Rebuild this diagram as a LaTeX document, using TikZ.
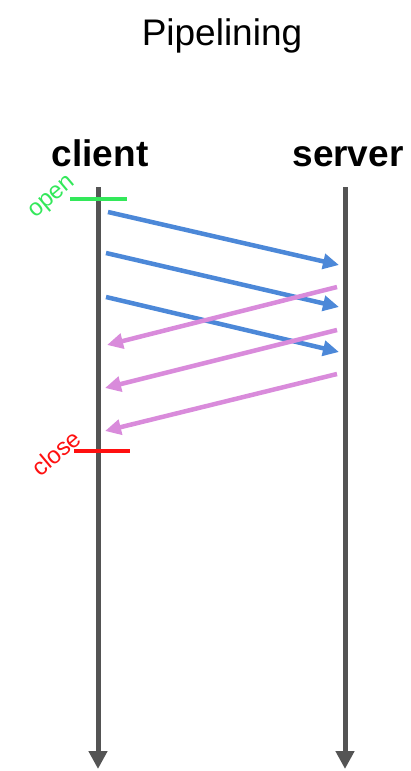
\documentclass[tikz,border=0pt]{standalone}
\usepackage{fontspec}
\setmainfont{Liberation Sans}
\usetikzlibrary{arrows.meta}

\definecolor{lifegray}{HTML}{545454}
\definecolor{reqblue}{HTML}{4C88D8}
\definecolor{resppink}{HTML}{D98BDB}
\definecolor{opengreen}{HTML}{33E85A}
\definecolor{closered}{HTML}{FF1010}

\tikzset{
  lifeline/.style={draw=lifegray, line width=5pt, -{Triangle[length=18pt,width=18pt]}},
  request/.style={draw=reqblue, line width=4.5pt, -{Triangle[length=16pt,width=15pt]}},
  response/.style={draw=resppink, line width=4.5pt, -{Triangle[length=16pt,width=15pt]}},
  party/.style={anchor=base, font=\fontsize{37}{40}\selectfont\bfseries},
  marklabel/.style={rotate=40, inner sep=0pt, font=\fontsize{24}{26}\selectfont},
}

\begin{document}
\begin{tikzpicture}[x=1pt,y=-1pt]
  \useasboundingbox (0,0) rectangle (411,771);

  \node[anchor=base, font=\fontsize{37}{40}\selectfont] (title) at (222,45) {Pipelining};
  \node[party] (client) at (100,166) {client};
  \node[party] (server) at (348,166) {server};

  % lifelines
  \coordinate (client top) at (98,187);
  \coordinate (client end) at (98,769);
  \coordinate (server top) at (345,187);
  \coordinate (server end) at (345,769);
  \draw[lifeline] (client top) -- (client end);
  \draw[lifeline] (server top) -- (server end);

  % open / close marks
  \coordinate (open l) at (70,199);  \coordinate (open r) at (127,199);
  \coordinate (close l) at (74,451); \coordinate (close r) at (130,451);
  \draw[opengreen, line width=4pt] (open l) -- (open r);
  \draw[closered, line width=4pt] (close l) -- (close r);
  \node[marklabel, text=opengreen] (open) at (53,198) {open};
  \node[marklabel, text=closered] (close) at (56,453) {close};

  % requests
  \coordinate (q1) at (108,212); \coordinate (a1) at (339,265);
  \coordinate (q2) at (106,253); \coordinate (a2) at (339,307);
  \coordinate (q3) at (106,297); \coordinate (a3) at (339,352);
  \draw[request] (q1) -- (a1);
  \draw[request] (q2) -- (a2);
  \draw[request] (q3) -- (a3);

  % responses
  \coordinate (r1) at (337,287); \coordinate (b1) at (107,345);
  \coordinate (r2) at (337,330); \coordinate (b2) at (105,388);
  \coordinate (r3) at (337,374); \coordinate (b3) at (105,431);
  \draw[response] (r1) -- (b1);
  \draw[response] (r2) -- (b2);
  \draw[response] (r3) -- (b3);
\end{tikzpicture}
\end{document}
